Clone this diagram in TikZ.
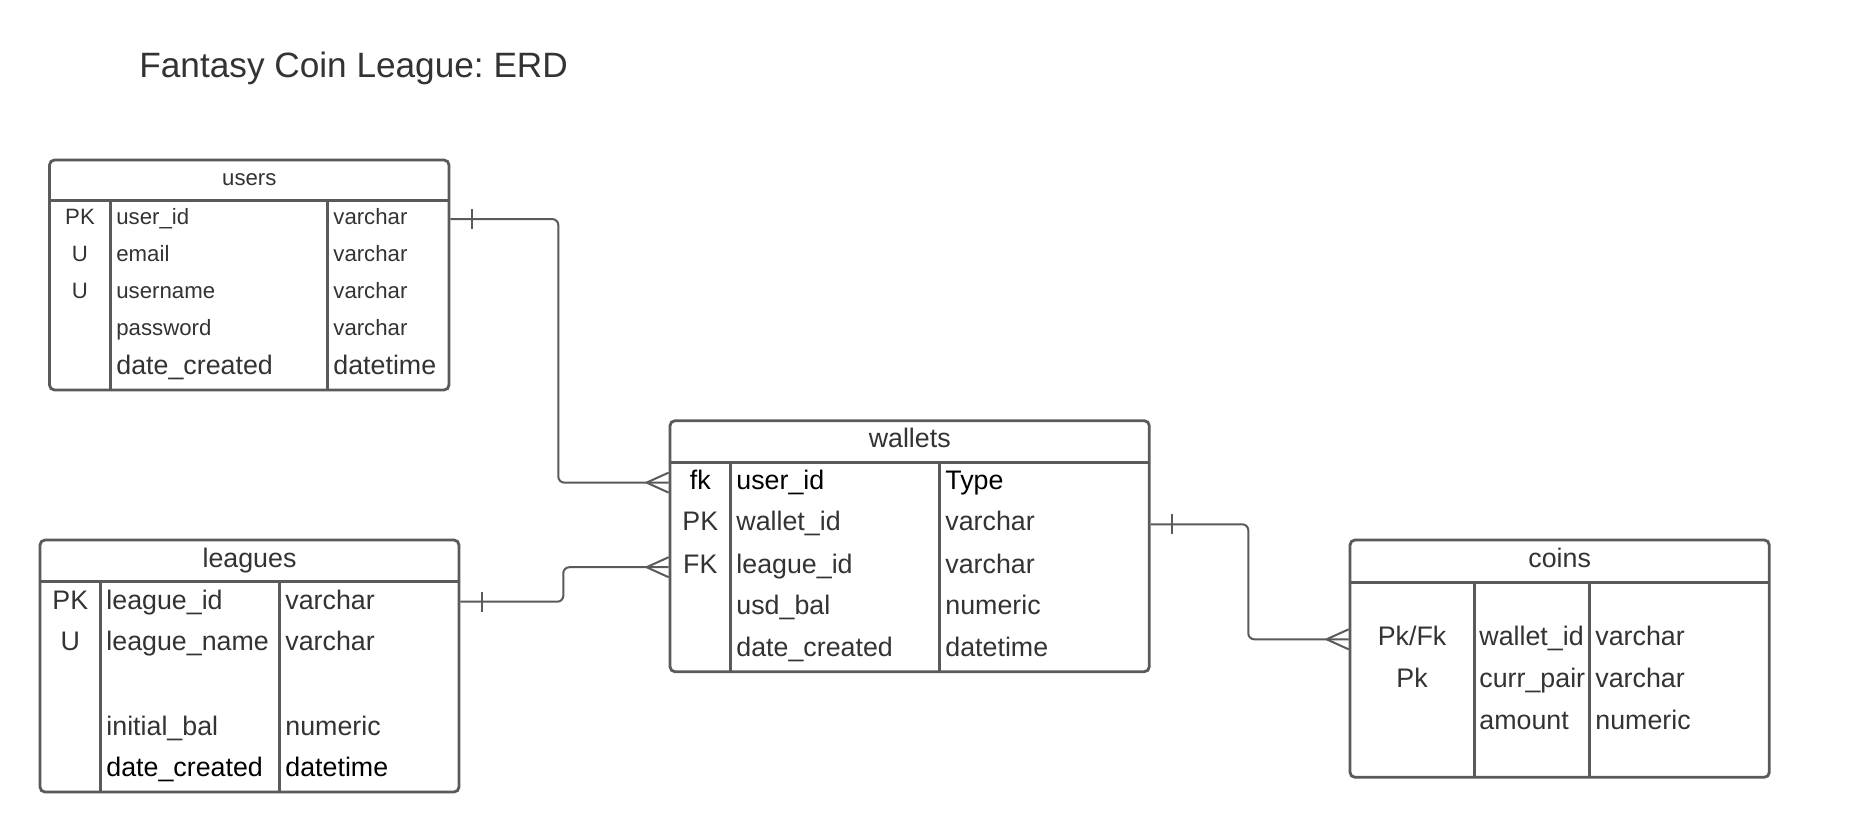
\documentclass[tikz,border=0pt]{standalone}
\usepackage{fontspec}
\setmainfont{Liberation Sans}
\usetikzlibrary{fit}
\definecolor{ln}{HTML}{5A5A5A}
\definecolor{tx}{HTML}{333333}
\frenchspacing
\begin{document}
\begin{tikzpicture}[x=0.5pt,y=-0.5pt,
  tbox/.style={draw=ln, line width=1.4pt, rounded corners=2.5pt, inner sep=0pt},
  sepl/.style={draw=ln, line width=1.4pt},
  conn/.style={draw=ln, line width=1pt, rounded corners=3pt},
  crow/.style={draw=ln, line width=1pt},
  big/.style={font=\fontsize{13.4}{15}\selectfont},
  small/.style={font=\fontsize{11.1}{13}\selectfont},
  cell/.style={inner sep=0pt, text height=0.716em, text depth=0pt, text=tx, big, yshift=-1pt},
  fld/.style={cell, anchor=west},
  hdr/.style={cell},
  blk/.style={text=black}
]
\useasboundingbox[fill=white] (0,0) rectangle (1850,832);

% title
\node[cell, anchor=west, font=\fontsize{17.6}{20}\selectfont] (title) at (139,68) {Fantasy Coin League: ERD};

% ---------- users ----------
\node[tbox, fit={(49.5,160) (449,390)}] (users) {};
\draw[sepl] (49.5,200.7) -- (449,200.7);
\draw[sepl] (110.7,200.7) -- (110.7,390);
\draw[sepl] (327.3,200.7) -- (327.3,390);
\node[hdr, small] (usersH) at (249.3,176.5) {users};
\node[cell, small] (uk1) at (80,215.5) {PK};
\node[cell, small] (uk2) at (80,252) {U};
\node[cell, small] (uk3) at (80,289) {U};
\node[fld, small] (un1) at (116,215.5) {user\_id};
\node[fld, small] (un2) at (116,252) {email};
\node[fld, small] (un3) at (116,289) {username};
\node[fld, small] (un4) at (116,326) {password};
\node[fld] (un5) at (116,365) {date\_created};
\node[fld, small] (ut1) at (333,215.5) {varchar};
\node[fld, small] (ut2) at (333,252) {varchar};
\node[fld, small] (ut3) at (333,289) {varchar};
\node[fld, small] (ut4) at (333,326) {varchar};
\node[fld] (ut5) at (333,365) {datetime};

% ---------- leagues ----------
\node[tbox, fit={(40,540) (459,792)}] (leagues) {};
\draw[sepl] (40,581.7) -- (459,581.7);
\draw[sepl] (100.7,581.7) -- (100.7,792);
\draw[sepl] (279.3,581.7) -- (279.3,792);
\node[hdr] (leaguesH) at (249.5,558) {leagues};
\node[cell] (lk1) at (70.3,600) {PK};
\node[cell] (lk2) at (70.3,641.7) {U};
\node[fld] (ln1) at (106,600) {league\_id};
\node[fld] (ln2) at (106,641.7) {league\_name};
\node[fld] (ln4) at (106,726.7) {initial\_bal};
\node[fld, blk] (ln5) at (106,767.5) {date\_created};
\node[fld] (lt1) at (285,600) {varchar};
\node[fld] (lt2) at (285,641.7) {varchar};
\node[fld] (lt4) at (285,726.7) {numeric};
\node[fld, blk] (lt5) at (285,767.5) {datetime};

% ---------- wallets ----------
\node[tbox, fit={(670,420.7) (1149.3,671.7)}] (wallets) {};
\draw[sepl] (670,462.3) -- (1149.3,462.3);
\draw[sepl] (730.7,462.3) -- (730.7,671.7);
\draw[sepl] (939.3,462.3) -- (939.3,671.7);
\node[hdr] (walletsH) at (909.7,438) {wallets};
\node[cell, blk] (wk1) at (700.3,480) {fk};
\node[cell] (wk2) at (700.3,521.7) {PK};
\node[cell] (wk3) at (700.3,564) {FK};
\node[fld, blk] (wn1) at (736,480) {user\_id};
\node[fld] (wn2) at (736,521.7) {wallet\_id};
\node[fld] (wn3) at (736,564) {league\_id};
\node[fld] (wn4) at (736,605) {usd\_bal};
\node[fld] (wn5) at (736,647) {date\_created};
\node[fld, blk] (wt1) at (945,480) {Type};
\node[fld] (wt2) at (945,521.7) {varchar};
\node[fld] (wt3) at (945,564) {varchar};
\node[fld] (wt4) at (945,605) {numeric};
\node[fld] (wt5) at (945,647) {datetime};

% ---------- coins ----------
\node[tbox, fit={(1350,540) (1769.3,777.3)}] (coins) {};
\draw[sepl] (1350,582.3) -- (1769.3,582.3);
\draw[sepl] (1474.3,582.3) -- (1474.3,777.3);
\draw[sepl] (1589.3,582.3) -- (1589.3,777.3);
\node[hdr] (coinsH) at (1559.7,558) {coins};
\node[cell] (ck1) at (1412,636.7) {Pk/Fk};
\node[cell] (ck2) at (1412,678.3) {Pk};
\node[fld] (cn1) at (1479,636.7) {wallet\_id};
\node[fld] (cn2) at (1479,678.3) {curr\_pair};
\node[fld] (cn3) at (1479,720) {amount};
\node[fld] (ct1) at (1595,636.7) {varchar};
\node[fld] (ct2) at (1595,678.3) {varchar};
\node[fld] (ct3) at (1595,720) {numeric};

% ---------- connector end points ----------
\coordinate (a1) at ([yshift=-0.8pt]users.east |- uk1);
\coordinate (b1) at ([yshift=-0.3pt]wallets.west |- wk1);
\coordinate (j1) at (558.3,0);
\coordinate (a2) at ([yshift=0.15pt]leagues.east |- lk1);
\coordinate (b2) at ([yshift=-0.6pt]wallets.west |- wk3);
\coordinate (j2) at (563.3,0);
\coordinate (a3) at ([yshift=-0.3pt]wallets.east |- wk2);
\coordinate (b3) at ([yshift=-0.3pt]coins.west |- ck1);
\coordinate (j3) at (1248.3,0);

% users -> wallets
\draw[conn] (a1) -- (a1 -| j1) -- (b1 -| j1) -- (b1);
\draw[crow] ([xshift=10.8pt]a1) ++(0,-10) -- ++(0,20);
\draw[crow] ([xshift=-11pt]b1) -- ++(22,-10);
\draw[crow] ([xshift=-11pt]b1) -- ++(22,10);

% leagues -> wallets
\draw[conn] (a2) -- (a2 -| j2) -- (b2 -| j2) -- (b2);
\draw[crow] ([xshift=10.8pt]a2) ++(0,-10) -- ++(0,20);
\draw[crow] ([xshift=-11pt]b2) -- ++(22,-10);
\draw[crow] ([xshift=-11pt]b2) -- ++(22,10);

% wallets -> coins
\draw[conn] (a3) -- (a3 -| j3) -- (b3 -| j3) -- (b3);
\draw[crow] ([xshift=10.4pt]a3) ++(0,-10) -- ++(0,20);
\draw[crow] ([xshift=-11pt]b3) -- ++(22,-10);
\draw[crow] ([xshift=-11pt]b3) -- ++(22,10);
\end{tikzpicture}
\end{document}
